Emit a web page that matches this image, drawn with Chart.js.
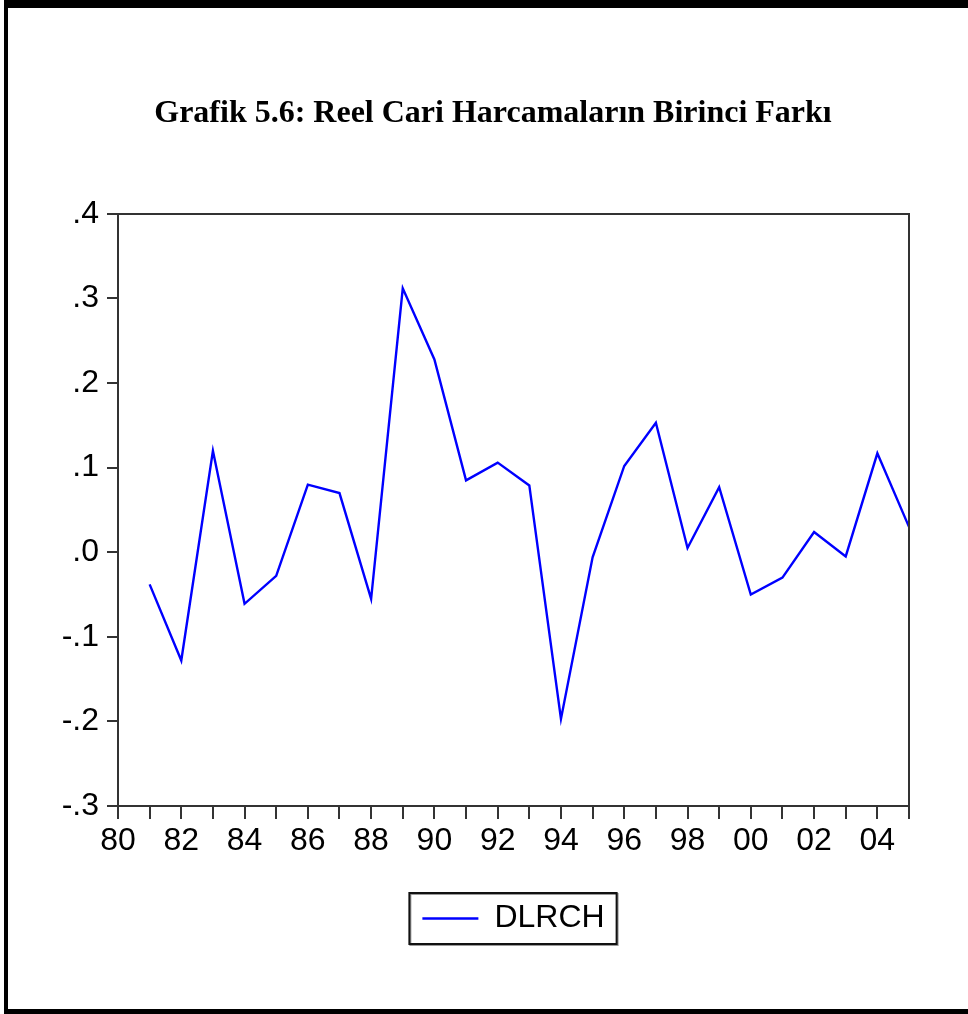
<!DOCTYPE html>
<html>
<head>
<meta charset="utf-8">
<script src="https://cdn.jsdelivr.net/npm/chart.js@4.4.1/dist/chart.umd.min.js"></script>
<style>
  html, body { margin: 0; padding: 0; background: #fff; }
  body { width: 968px; height: 1014px; position: relative; overflow: hidden; }
  .frame {
    position: absolute; left: 4px; top: 0; right: -20px; bottom: 0;
    border-top: 8px solid #000; border-left: 4px solid #000; border-bottom: 5px solid #000;
    box-sizing: border-box;
  }
  #wrap { position: absolute; left: 0; top: 0; width: 968px; height: 1014px; }
</style>
</head>
<body>
<div class="frame"></div>
<div id="wrap"><canvas id="c"></canvas></div>
<script>
// Annual observations, 1980-2005 (first difference, so 1980 is empty)
const years = [1980, 1981, 1982, 1983, 1984, 1985, 1986, 1987, 1988, 1989,
               1990, 1991, 1992, 1993, 1994, 1995, 1996, 1997, 1998, 1999,
               2000, 2001, 2002, 2003, 2004, 2005];
const dlrch = [null, -0.038, -0.128, 0.120, -0.061, -0.028, 0.080, 0.070, -0.055, 0.312,
               0.228, 0.085, 0.106, 0.079, -0.197, -0.006, 0.102, 0.153, 0.005, 0.077,
               -0.050, -0.030, 0.024, -0.005, 0.117, 0.030];
const xTickLabels = ['80', '', '82', '', '84', '', '86', '', '88', '', '90', '', '92', '',
                     '94', '', '96', '', '98', '', '00', '', '02', '', '04', ''];
const yTickLabels = ['-.3', '-.2', '-.1', '.0', '.1', '.2', '.3', '.4'];
const seriesName = 'DLRCH';
const chartTitle = 'Grafik 5.6: Reel Cari Harcamaların Birinci Farkı';

const AXIS = '#333333';
const SANS = "'Liberation Sans', Arial, sans-serif";

// Closes the plot box (top and right edges) and frames the legend entry
const framePlugin = {
  id: 'frames',
  afterDraw(chart) {
    const { ctx, chartArea: a } = chart;
    ctx.save();
    ctx.strokeStyle = AXIS;
    ctx.lineWidth = 2;
    ctx.beginPath();
    ctx.moveTo(a.left - 1, a.top);
    ctx.lineTo(a.right, a.top);
    ctx.lineTo(a.right, a.bottom + 1);
    ctx.stroke();
    const hb = chart.legend && chart.legend.legendHitBoxes && chart.legend.legendHitBoxes[0];
    if (hb) {
      ctx.strokeStyle = '#999';
      ctx.strokeRect(hb.left - 12, hb.top - 8.5, hb.width + 25, hb.height + 19);
      ctx.strokeStyle = '#111';
      ctx.strokeRect(hb.left - 13, hb.top - 9.5, hb.width + 25, hb.height + 19);
    }
    ctx.restore();
  }
};

new Chart(document.getElementById('c'), {
  type: 'line',
  data: {
    labels: years,
    datasets: [{
      label: seriesName,
      data: dlrch,
      yAxisID: 'y',
      borderColor: '#0000ff',
      backgroundColor: '#0000ff',
      borderWidth: 2.4,
      pointRadius: 0,
      tension: 0,
      fill: false
    }]
  },
  options: {
    responsive: true,
    maintainAspectRatio: false,
    animation: false,
    layout: { padding: { left: 60, right: 42, top: 0, bottom: 69.5 } },
    plugins: {
      title: {
        display: true,
        text: chartTitle,
        color: '#000',
        font: { family: "'Liberation Serif', 'Times New Roman', serif", size: 32, weight: 'bold' },
        padding: { top: 94.5, bottom: 81 }
      },
      legend: {
        display: true,
        position: 'bottom',
        fullSize: false,
        labels: {
          color: '#000',
          font: { family: SANS, size: 32 },
          usePointStyle: true,
          pointStyle: 'line',
          pointStyleWidth: 56,
          padding: 30
        }
      },
      tooltip: { enabled: false }
    },
    scales: {
      x: {
        type: 'category',
        offset: false,
        border: { display: true, color: AXIS, width: 2 },
        grid: { display: true, drawOnChartArea: false, drawTicks: true, tickLength: 13, color: AXIS, lineWidth: 2 },
        ticks: {
          autoSkip: false, maxRotation: 0, minRotation: 0, padding: 3,
          color: '#000', font: { family: SANS, size: 32 },
          callback: (v, i) => xTickLabels[i]
        },
        afterFit: (s) => { s.height = 66.5; }
      },
      y: {
        position: 'left',
        min: -0.3,
        max: 0.4,
        border: { display: true, color: AXIS, width: 2 },
        grid: { display: true, drawOnChartArea: false, drawTicks: true, tickLength: 11, color: AXIS, lineWidth: 2 },
        ticks: {
          stepSize: 0.1, padding: 8,
          color: '#000', font: { family: SANS, size: 32 },
          callback: (v, i) => yTickLabels[i]
        },
        afterFit: (s) => { s.width = 58; }
      },
      // empty margin on the right of the plot box
      yR: {
        position: 'right',
        display: true,
        border: { display: false },
        grid: { display: false },
        ticks: { display: false },
        afterFit: (s) => { s.width = 17; }
      }
    }
  },
  plugins: [framePlugin]
});
</script>
</body>
</html>
